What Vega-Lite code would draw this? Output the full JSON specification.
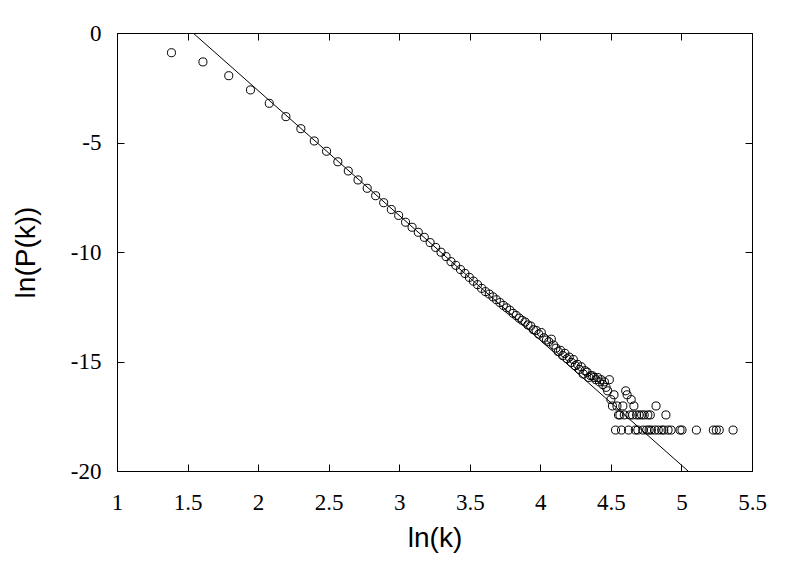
{
  "$schema": "https://vega.github.io/schema/vega-lite/v6.json",
  "width": 635,
  "height": 438,
  "autosize": {"type": "none"},
  "padding": {"left": 117, "top": 33, "right": 48, "bottom": 90},
  "background": "white",
  "config": {
    "view": {"stroke": "black", "strokeWidth": 1},
    "axis": {
      "domain": false,
      "grid": false,
      "ticks": true,
      "tickColor": "black",
      "tickSize": -7,
      "tickWidth": 1,
      "labelFont": "Liberation Serif",
      "labelFontSize": 23,
      "labelColor": "black",
      "labelFlush": false,
      "labelOverlap": false,
      "titleFont": "Liberation Sans",
      "titleFontSize": 28,
      "titleFontWeight": "normal",
      "titleColor": "black"
    }
  },
  "layer": [
    {
      "data": {"values": [
        {"lnk": 1.386, "lnp": -0.90}, {"lnk": 1.609, "lnp": -1.32}, {"lnk": 1.792, "lnp": -1.95}, {"lnk": 1.946, "lnp": -2.60},
        {"lnk": 2.079, "lnp": -3.21}, {"lnk": 2.197, "lnp": -3.82}, {"lnk": 2.303, "lnp": -4.37}, {"lnk": 2.398, "lnp": -4.93},
        {"lnk": 2.485, "lnp": -5.40}, {"lnk": 2.565, "lnp": -5.88}, {"lnk": 2.639, "lnp": -6.30}, {"lnk": 2.708, "lnp": -6.71},
        {"lnk": 2.773, "lnp": -7.09}, {"lnk": 2.833, "lnp": -7.43}, {"lnk": 2.890, "lnp": -7.75}, {"lnk": 2.944, "lnp": -8.06},
        {"lnk": 2.996, "lnp": -8.33}, {"lnk": 3.045, "lnp": -8.64}, {"lnk": 3.091, "lnp": -8.87}, {"lnk": 3.135, "lnp": -9.10},
        {"lnk": 3.178, "lnp": -9.33}, {"lnk": 3.219, "lnp": -9.57}, {"lnk": 3.258, "lnp": -9.79}, {"lnk": 3.296, "lnp": -10.01},
        {"lnk": 3.332, "lnp": -10.21}, {"lnk": 3.367, "lnp": -10.44}, {"lnk": 3.401, "lnp": -10.61}, {"lnk": 3.434, "lnp": -10.80},
        {"lnk": 3.466, "lnp": -10.98}, {"lnk": 3.497, "lnp": -11.16}, {"lnk": 3.526, "lnp": -11.33}, {"lnk": 3.555, "lnp": -11.49},
        {"lnk": 3.584, "lnp": -11.66}, {"lnk": 3.611, "lnp": -11.81}, {"lnk": 3.638, "lnp": -11.92}, {"lnk": 3.664, "lnp": -12.05},
        {"lnk": 3.689, "lnp": -12.18}, {"lnk": 3.714, "lnp": -12.31}, {"lnk": 3.738, "lnp": -12.44}, {"lnk": 3.761, "lnp": -12.55},
        {"lnk": 3.784, "lnp": -12.66}, {"lnk": 3.807, "lnp": -12.80}, {"lnk": 3.829, "lnp": -12.90}, {"lnk": 3.850, "lnp": -13.02},
        {"lnk": 3.871, "lnp": -13.12}, {"lnk": 3.892, "lnp": -13.20}, {"lnk": 3.912, "lnp": -13.33}, {"lnk": 3.932, "lnp": -13.38},
        {"lnk": 3.951, "lnp": -13.55}, {"lnk": 3.970, "lnp": -13.58}, {"lnk": 3.989, "lnp": -13.75}, {"lnk": 4.007, "lnp": -13.68},
        {"lnk": 4.025, "lnp": -13.92}, {"lnk": 4.043, "lnp": -14.02}, {"lnk": 4.060, "lnp": -14.10}, {"lnk": 4.078, "lnp": -13.98},
        {"lnk": 4.094, "lnp": -14.25}, {"lnk": 4.111, "lnp": -14.39}, {"lnk": 4.127, "lnp": -14.55}, {"lnk": 4.143, "lnp": -14.49},
        {"lnk": 4.159, "lnp": -14.73}, {"lnk": 4.174, "lnp": -14.63}, {"lnk": 4.190, "lnp": -14.87}, {"lnk": 4.205, "lnp": -14.80},
        {"lnk": 4.220, "lnp": -15.04}, {"lnk": 4.234, "lnp": -14.91}, {"lnk": 4.248, "lnp": -15.19}, {"lnk": 4.263, "lnp": -15.13},
        {"lnk": 4.277, "lnp": -15.36}, {"lnk": 4.290, "lnp": -15.24}, {"lnk": 4.304, "lnp": -15.57}, {"lnk": 4.317, "lnp": -15.42},
        {"lnk": 4.331, "lnp": -15.49}, {"lnk": 4.344, "lnp": -15.73}, {"lnk": 4.357, "lnp": -15.65}, {"lnk": 4.369, "lnp": -15.65},
        {"lnk": 4.382, "lnp": -15.73}, {"lnk": 4.394, "lnp": -15.83}, {"lnk": 4.407, "lnp": -15.73}, {"lnk": 4.419, "lnp": -15.93},
        {"lnk": 4.431, "lnp": -15.83}, {"lnk": 4.443, "lnp": -16.05}, {"lnk": 4.454, "lnp": -15.93}, {"lnk": 4.466, "lnp": -16.18},
        {"lnk": 4.477, "lnp": -16.34}, {"lnk": 4.489, "lnp": -15.83}, {"lnk": 4.500, "lnp": -16.74}, {"lnk": 4.511, "lnp": -17.03},
        {"lnk": 4.522, "lnp": -16.52}, {"lnk": 4.533, "lnp": -18.13}, {"lnk": 4.543, "lnp": -17.03}, {"lnk": 4.554, "lnp": -17.44},
        {"lnk": 4.564, "lnp": -17.44}, {"lnk": 4.575, "lnp": -18.13}, {"lnk": 4.585, "lnp": -17.03}, {"lnk": 4.595, "lnp": -17.44},
        {"lnk": 4.605, "lnp": -16.34}, {"lnk": 4.615, "lnp": -16.52}, {"lnk": 4.625, "lnp": -18.13}, {"lnk": 4.635, "lnp": -17.44},
        {"lnk": 4.644, "lnp": -16.74}, {"lnk": 4.654, "lnp": -17.44}, {"lnk": 4.663, "lnp": -17.03}, {"lnk": 4.673, "lnp": -18.13},
        {"lnk": 4.682, "lnp": -17.44}, {"lnk": 4.691, "lnp": -18.13}, {"lnk": 4.700, "lnp": -17.44}, {"lnk": 4.718, "lnp": -17.44},
        {"lnk": 4.727, "lnp": -18.13}, {"lnk": 4.736, "lnp": -17.44}, {"lnk": 4.754, "lnp": -18.13}, {"lnk": 4.762, "lnp": -17.44},
        {"lnk": 4.771, "lnp": -18.13}, {"lnk": 4.779, "lnp": -17.44}, {"lnk": 4.787, "lnp": -18.13}, {"lnk": 4.812, "lnp": -18.13},
        {"lnk": 4.820, "lnp": -17.03}, {"lnk": 4.836, "lnp": -18.13}, {"lnk": 4.860, "lnp": -18.13}, {"lnk": 4.875, "lnp": -18.13},
        {"lnk": 4.890, "lnp": -17.44}, {"lnk": 4.905, "lnp": -18.13}, {"lnk": 4.927, "lnp": -18.13}, {"lnk": 4.990, "lnp": -18.13},
        {"lnk": 5.004, "lnp": -18.13}, {"lnk": 5.106, "lnp": -18.13}, {"lnk": 5.226, "lnp": -18.13}, {"lnk": 5.247, "lnp": -18.13},
        {"lnk": 5.268, "lnp": -18.13}, {"lnk": 5.366, "lnp": -18.13}
      ]},
      "mark": {"type": "point", "shape": "circle", "filled": false, "color": "black", "size": 65, "strokeWidth": 1, "opacity": 1},
      "encoding": {
        "x": {
          "field": "lnk", "type": "quantitative",
          "scale": {"domain": [1, 5.5], "nice": false, "zero": false},
          "axis": {"orient": "bottom", "values": [1, 1.5, 2, 2.5, 3, 3.5, 4, 4.5, 5, 5.5], "format": "~g", "labelPadding": 27, "title": "ln(k)", "titlePadding": 10}
        },
        "y": {
          "field": "lnp", "type": "quantitative",
          "scale": {"domain": [-20, 0], "nice": false, "zero": false},
          "axis": {"orient": "left", "values": [0, -5, -10, -15, -20], "labelExpr": "'' + datum.value", "labelPadding": 23, "title": "ln(P(k))", "titlePadding": 30}
        }
      }
    },
    {
      "data": {"values": [{"lnk": 1.539, "lnp": 0}, {"lnk": 5.047, "lnp": -20}]},
      "mark": {"type": "line", "color": "black", "strokeWidth": 1, "clip": true},
      "encoding": {
        "x": {"field": "lnk", "type": "quantitative", "axis": {"orient": "top", "values": [1, 1.5, 2, 2.5, 3, 3.5, 4, 4.5, 5, 5.5], "labels": false, "title": null}},
        "y": {"field": "lnp", "type": "quantitative", "axis": {"orient": "right", "values": [0, -5, -10, -15, -20], "labels": false, "title": null}}
      }
    }
  ],
  "resolve": {"axis": {"x": "independent", "y": "independent"}}
}
